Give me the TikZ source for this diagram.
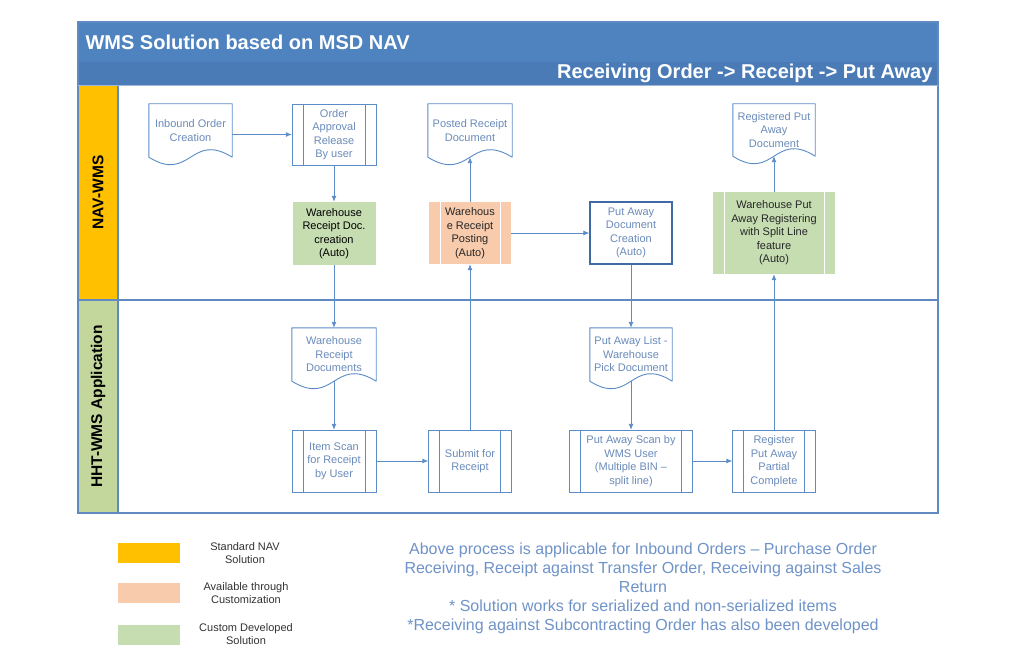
\documentclass[tikz,border=0pt]{standalone}
\usepackage{fontspec}
\setmainfont{Liberation Sans}
\usetikzlibrary{arrows.meta}

\definecolor{barblue}{HTML}{4F83C0}
\definecolor{barbluedark}{HTML}{4A7BB7}
\definecolor{frameblue}{HTML}{5F8AC2}
\definecolor{navorange}{HTML}{FFC000}
\definecolor{custpeach}{HTML}{F8CBAD}
\definecolor{devgreen}{HTML}{C6DDB2}
\definecolor{lanegreen}{HTML}{C3D69B}
\definecolor{flowblue}{HTML}{5B8CC8}
\definecolor{txtblue}{HTML}{6A8BBA}
\definecolor{darkedge}{HTML}{3F6AA6}
\definecolor{noteblue}{HTML}{6F93C8}

% outline of a document node: open rectangle with a wavy foot
\newcommand\docoutline[1]{%
  \draw[flowblue, line width=0.9pt, line join=round]
    (#1.south west) -- (#1.north west) -- (#1.north east) -- (#1.south east)
    .. controls ([yshift=26pt]#1.south) and ([yshift=-26pt]#1.south) .. (#1.south west);}

\tikzset{
  boxfont/.style={font=\fontsize{11}{13.5}\selectfont},
  docbox/.style={rectangle, text=txtblue, align=center, boxfont, inner sep=1pt},
  procbox/.style={rectangle, draw=flowblue, fill=white, text=txtblue,
    align=center, boxfont, inner sep=1pt,
    path picture={\draw[draw=#1]
      ([xshift=11pt]path picture bounding box.north west) --
      ([xshift=11pt]path picture bounding box.south west)
      ([xshift=-11pt]path picture bounding box.north east) --
      ([xshift=-11pt]path picture bounding box.south east);}},
  procbox/.default=flowblue,
  autobox/.style={rectangle, align=center, boxfont, inner sep=1pt},
  flow/.style={draw=flowblue, line width=0.9pt, -{Latex[length=6pt,width=5pt]}},
  lanelabel/.style={rotate=90, font=\bfseries\fontsize{15.5}{18}\selectfont},
  keybox/.style={rectangle, minimum width=62pt, minimum height=20pt, inner sep=0pt},
  keytext/.style={align=center, text=black!80, font=\fontsize{11}{12.5}\selectfont}
}

\begin{document}
\begin{tikzpicture}[x=1pt,y=-1pt]
	\useasboundingbox[fill=white] (0,0) rectangle (1024,668);

	% title bars and lanes
	\fill[barblue] (78,22) rectangle (938,62);
	\fill[barbluedark] (78,62) rectangle (938,85);
	\fill[navorange] (78,85) rectangle (118,300);
	\fill[lanegreen] (78,300) rectangle (118,513);
	\draw[frameblue, line width=1.2pt] (78,22) rectangle (938,513);
	\draw[frameblue, line width=1.6pt] (78,300) -- (938,300);
	\draw[frameblue, line width=1.2pt] (118,85) -- (118,513);
	\draw[frameblue!60, line width=0.8pt] (78,85) -- (938,85);

	\node (title) [anchor=west, text=white, font=\bfseries\fontsize{20}{24}\selectfont] at (82,42) {WMS Solution based on MSD NAV};
	\node (subtitle) [anchor=east, text=white, font=\bfseries\fontsize{20}{24}\selectfont] at (936,73) {Receiving Order -> Receipt -> Put Away};
	\node (navlane) [lanelabel] at (98,192.5) {NAV-WMS};
	\node (hhtlane) [lanelabel] at (98,406.5) {HHT-WMS Application};

	% NAV-WMS lane
	\node (inbound) [docbox, minimum width=83pt, minimum height=53pt] at (190.5,130.5) {Inbound Order\\Creation};
	\node (approval) [procbox, minimum width=84pt, minimum height=61pt] at (334,134.5) {Order\\Approval\\Release\\By user};
	\node (rcptcreate) [autobox, fill=devgreen, minimum width=83pt, minimum height=63pt] at (334,233.5) {Warehouse\\Receipt Doc.\\creation\\(Auto)};
	\node (posted) [docbox, minimum width=84pt, minimum height=53pt] at (470,130.5) {Posted Receipt\\Document};
	\node (posting) [procbox=white, draw=none, fill=custpeach, text=black!85, minimum width=82pt, minimum height=62pt] at (470,233) {Warehous\\e Receipt\\Posting\\(Auto)};
	\node (pacreate) [autobox, draw=darkedge, line width=1.2pt, text=txtblue, minimum width=82pt, minimum height=62pt] at (631,233) {Put Away\\Document\\Creation\\(Auto)};
	\node (registered) [docbox, minimum width=82pt, minimum height=52pt] at (774,130) {Registered Put\\Away\\Document};
	\node (paregister) [procbox=white, draw=none, fill=devgreen, text=black!85, minimum width=122pt, minimum height=82pt] at (774,233) {Warehouse Put\\Away Registering\\with Split Line\\feature\\(Auto)};

	% HHT-WMS lane
	\node (rcptdocs) [docbox, minimum width=84pt, minimum height=53pt] at (334,354.5) {Warehouse\\Receipt\\Documents};
	\node (itemscan) [procbox, minimum width=84pt, minimum height=62pt] at (334,461) {Item Scan\\for Receipt\\by User};
	\node (submit) [procbox, minimum width=83pt, minimum height=62pt] at (470,461) {Submit for\\Receipt};
	\node (palist) [docbox, minimum width=82pt, minimum height=53pt] at (631,354.5) {Put Away List -\\Warehouse\\Pick Document};
	\node (pascan) [procbox, minimum width=123pt, minimum height=62pt] at (631,461) {Put Away Scan by\\WMS User\\(Multiple BIN --\\split line)};
	\node (regpartial) [procbox, minimum width=83pt, minimum height=62pt] at (774,461) {Register\\Put Away\\Partial\\Complete};

	\docoutline{inbound}
	\docoutline{posted}
	\docoutline{registered}
	\docoutline{rcptdocs}
	\docoutline{palist}

	% connectors
	\draw[flow] (inbound.east |- approval.west) -- (approval.west);
	\draw[flow] (approval) -- (rcptcreate);
	\draw[flow] (rcptcreate) -- (rcptdocs);
	\draw[flow] (rcptdocs.south) -- (itemscan);
	\draw[flow] (itemscan) -- (submit);
	\draw[flow] (submit) -- (posting);
	\draw[flow] (posting) -- (posted.south);
	\draw[flow] (posting) -- (pacreate);
	\draw[flow] (pacreate) -- (palist);
	\draw[flow] (palist.south) -- (pascan);
	\draw[flow] (pascan) -- (regpartial);
	\draw[flow] (regpartial) -- (paregister);
	\draw[flow] (paregister) -- (registered.south);

	% legend
	\node (keynav) [keybox, fill=navorange] at (149,553) {};
	\node (keycust) [keybox, fill=custpeach] at (149,593) {};
	\node (keydev) [keybox, fill=devgreen] at (149,634.5) {};
	\node (keynavtext) [keytext] at (245,553) {Standard NAV\\Solution};
	\node (keycusttext) [keytext] at (246,593) {Available through\\Customization};
	\node (keydevtext) [keytext] at (246,634) {Custom Developed\\Solution};

	% note
	\node (note) [align=center, text=noteblue, font=\fontsize{16}{19}\selectfont] at (643,588) {Above process is applicable for Inbound Orders -- Purchase Order\\Receiving, Receipt against Transfer Order, Receiving against Sales\\Return\\* Solution works for serialized and non-serialized items\\*Receiving against Subcontracting Order has also been developed};
\end{tikzpicture}
\end{document}
